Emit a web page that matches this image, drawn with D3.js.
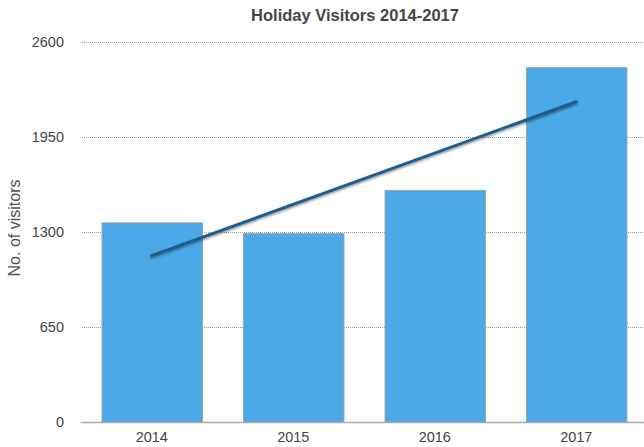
<!DOCTYPE html>
<html>
<head>
<meta charset="utf-8">
<script src="https://cdn.jsdelivr.net/npm/d3@7"></script>
<style>
  body { margin: 0; background: #fff; }
  text { font-family: "Liberation Sans", Arial, sans-serif; }
</style>
</head>
<body>
<div id="chart"></div>
<script>
// data
var years = ["2014", "2015", "2016", "2017"];
var visitors = [1366, 1292, 1588, 2428];
var yTicks = [0, 650, 1300, 1950, 2600];
// trend line end values (first and last year)
var trendYears = ["2014", "2017"];
var trendValues = [1138, 2191];

var width = 644, height = 447;
var margin = {top: 42, right: 0, bottom: 25, left: 81};

var svg = d3.select("#chart").append("svg")
    .attr("width", width)
    .attr("height", height);

var defs = svg.append("defs");
var shadow = defs.append("filter")
    .attr("id", "shadow")
    .attr("x", "-10%").attr("y", "-50%")
    .attr("width", "120%").attr("height", "200%");
shadow.append("feDropShadow")
    .attr("dx", 0).attr("dy", 1.5)
    .attr("stdDeviation", 1.2)
    .attr("flood-color", "#000")
    .attr("flood-opacity", 0.45);

var x = d3.scaleBand()
    .domain(years)
    .range([margin.left, 647])
    .paddingInner(0.29)
    .paddingOuter(0.145);

var y = d3.scaleLinear()
    .domain([0, 2600])
    .range([height - margin.bottom, margin.top]);

// title
svg.append("text")
    .attr("x", 355)
    .attr("y", 21)
    .attr("text-anchor", "middle")
    .attr("font-size", 16.5)
    .attr("font-weight", "bold")
    .attr("fill", "#454545")
    .text("Holiday Visitors 2014-2017");

// gridlines
svg.append("g")
    .selectAll("line")
    .data(yTicks.filter(function(d) { return d > 0; }))
    .enter().append("line")
    .attr("x1", margin.left + 1)
    .attr("x2", width)
    .attr("y1", function(d) { return Math.round(y(d)) + 0.5; })
    .attr("y2", function(d) { return Math.round(y(d)) + 0.5; })
    .attr("stroke", "#999")
    .attr("stroke-width", 1)
    .attr("stroke-dasharray", "1,1");

// y axis (labels only)
var yAxis = svg.append("g")
    .attr("transform", "translate(" + (margin.left - 17) + ",0)")
    .call(d3.axisLeft(y).tickValues(yTicks).tickFormat(d3.format("d")).tickSize(0).tickPadding(0));
yAxis.select(".domain").remove();
yAxis.selectAll("text")
    .attr("font-size", 14.5)
    .attr("fill", "#444")
    .style("font-family", "'Liberation Sans', Arial, sans-serif");

svg.append("text")
    .attr("transform", "translate(14," + 228 + ") rotate(-90)")
    .attr("text-anchor", "middle")
    .attr("dy", "0.35em")
    .attr("font-size", 16)
    .attr("fill", "#555")
    .text("No. of visitors");

// bars
svg.append("g")
    .selectAll("rect")
    .data(visitors)
    .enter().append("rect")
    .attr("x", function(d, i) { return x(years[i]) + 0.5; })
    .attr("y", function(d) { return y(d) + 0.5; })
    .attr("width", x.bandwidth())
    .attr("height", function(d) { return y(0) - y(d); })
    .attr("fill", "#4aa9e6")
    .attr("stroke", "#9aa4ab")
    .attr("stroke-width", 1);

// x axis
var xAxis = svg.append("g")
    .attr("transform", "translate(0," + (y(0) + 0.5) + ")")
    .call(d3.axisBottom(x).tickSize(0).tickPadding(9).tickSizeOuter(0));
xAxis.select(".domain")
    .attr("d", "M" + margin.left + ",0H" + width)
    .attr("stroke", "#aaa")
    .attr("stroke-width", 1.5);
xAxis.selectAll("text")
    .attr("font-size", 14.5)
    .attr("fill", "#444")
    .style("font-family", "'Liberation Sans', Arial, sans-serif");

// trend line
var line = d3.line()
    .x(function(d, i) { return x(trendYears[i]) + x.bandwidth() / 2; })
    .y(function(d) { return y(d); });

svg.append("path")
    .datum(trendValues)
    .attr("d", line)
    .attr("fill", "none")
    .attr("stroke", "#1f5f8f")
    .attr("stroke-width", 3)
    .attr("stroke-linecap", "round")
    .attr("filter", "url(#shadow)");
</script>
</body>
</html>
